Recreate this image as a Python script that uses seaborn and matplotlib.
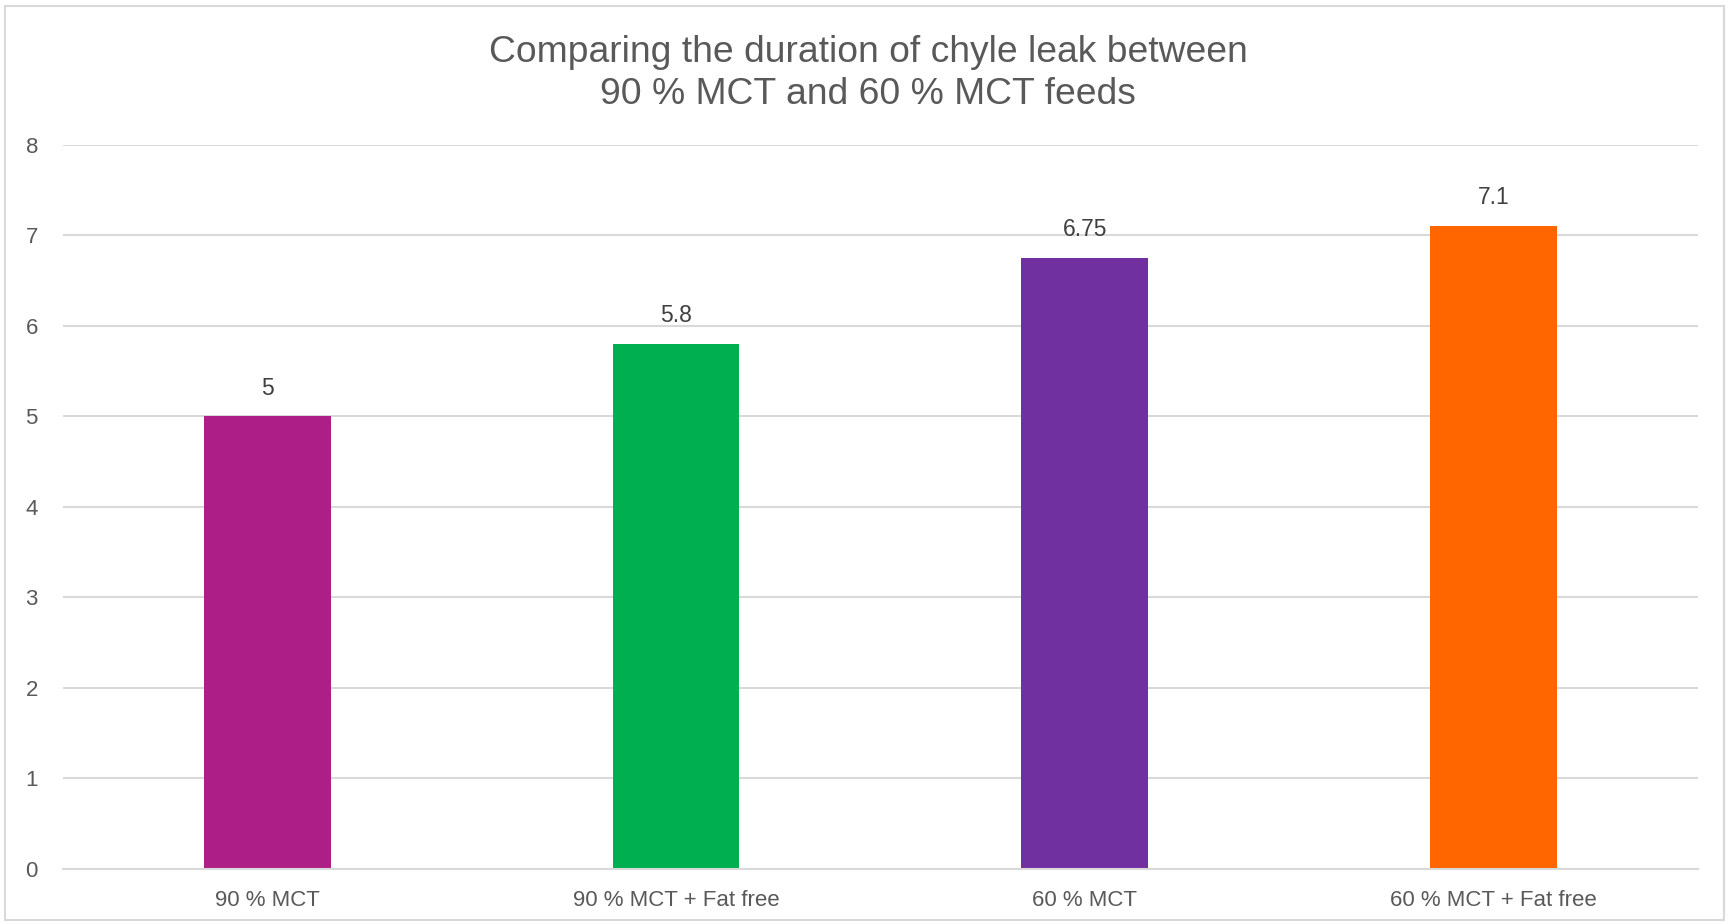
import pandas as pd
import seaborn as sns
import matplotlib.pyplot as plt
from matplotlib.patches import Rectangle

# Data
feeds = ['90 % MCT', '90 % MCT + Fat free', '60 % MCT', '60 % MCT + Fat free']
duration = [5, 5.8, 6.75, 7.1]
value_labels = ['5', '5.8', '6.75', '7.1']
bar_colors = ['#AD1F87', '#00B050', '#7030A0', '#FF6600']

df = pd.DataFrame({'feed': feeds, 'duration': duration})

sns.set_style("white")
plt.rcParams['font.family'] = ['Liberation Sans', 'DejaVu Sans']

fig = plt.figure(figsize=(17.29, 9.24), dpi=100)
ax = fig.add_axes([0.0364, 0.0595, 0.9456, 0.7841])

sns.barplot(data=df, x='feed', y='duration', hue='feed', palette=bar_colors,
            width=0.31, legend=False, saturation=1, linewidth=0, ax=ax)

ax.set_ylim(0, 8)
ax.set_yticks(range(0, 9))
ax.set_xlim(-0.5, 3.5)
ax.yaxis.grid(True, color='#D9D9D9', linewidth=1.5)
ax.set_axisbelow(True)
for side in ['top', 'right', 'left']:
    ax.spines[side].set_visible(False)
ax.spines['bottom'].set_color('#D9D9D9')
ax.spines['bottom'].set_linewidth(1.5)
ax.tick_params(axis='both', length=0, labelsize=16, labelcolor='#595959')
ax.tick_params(axis='y', pad=18)
ax.tick_params(axis='x', pad=15)
ax.set_xlabel('')
ax.set_ylabel('')

# one container per bar since hue = category
for i, container in enumerate(ax.containers):
    ax.bar_label(container, labels=[value_labels[i]], fontsize=16.5,
                 color='#404040', padding=12)

fig.text(0.502, 0.9205, 'Comparing the duration of chyle leak between\n90 % MCT and 60 % MCT feeds',
         ha='center', va='center', fontsize=26.8, color='#595959', linespacing=1.25)

fig.patches.append(Rectangle((0.003, 0.004), 0.994, 0.99, transform=fig.transFigure,
                             fill=False, edgecolor='#D9D9D9', linewidth=1.5))

fig.savefig('out.png', dpi=100)
